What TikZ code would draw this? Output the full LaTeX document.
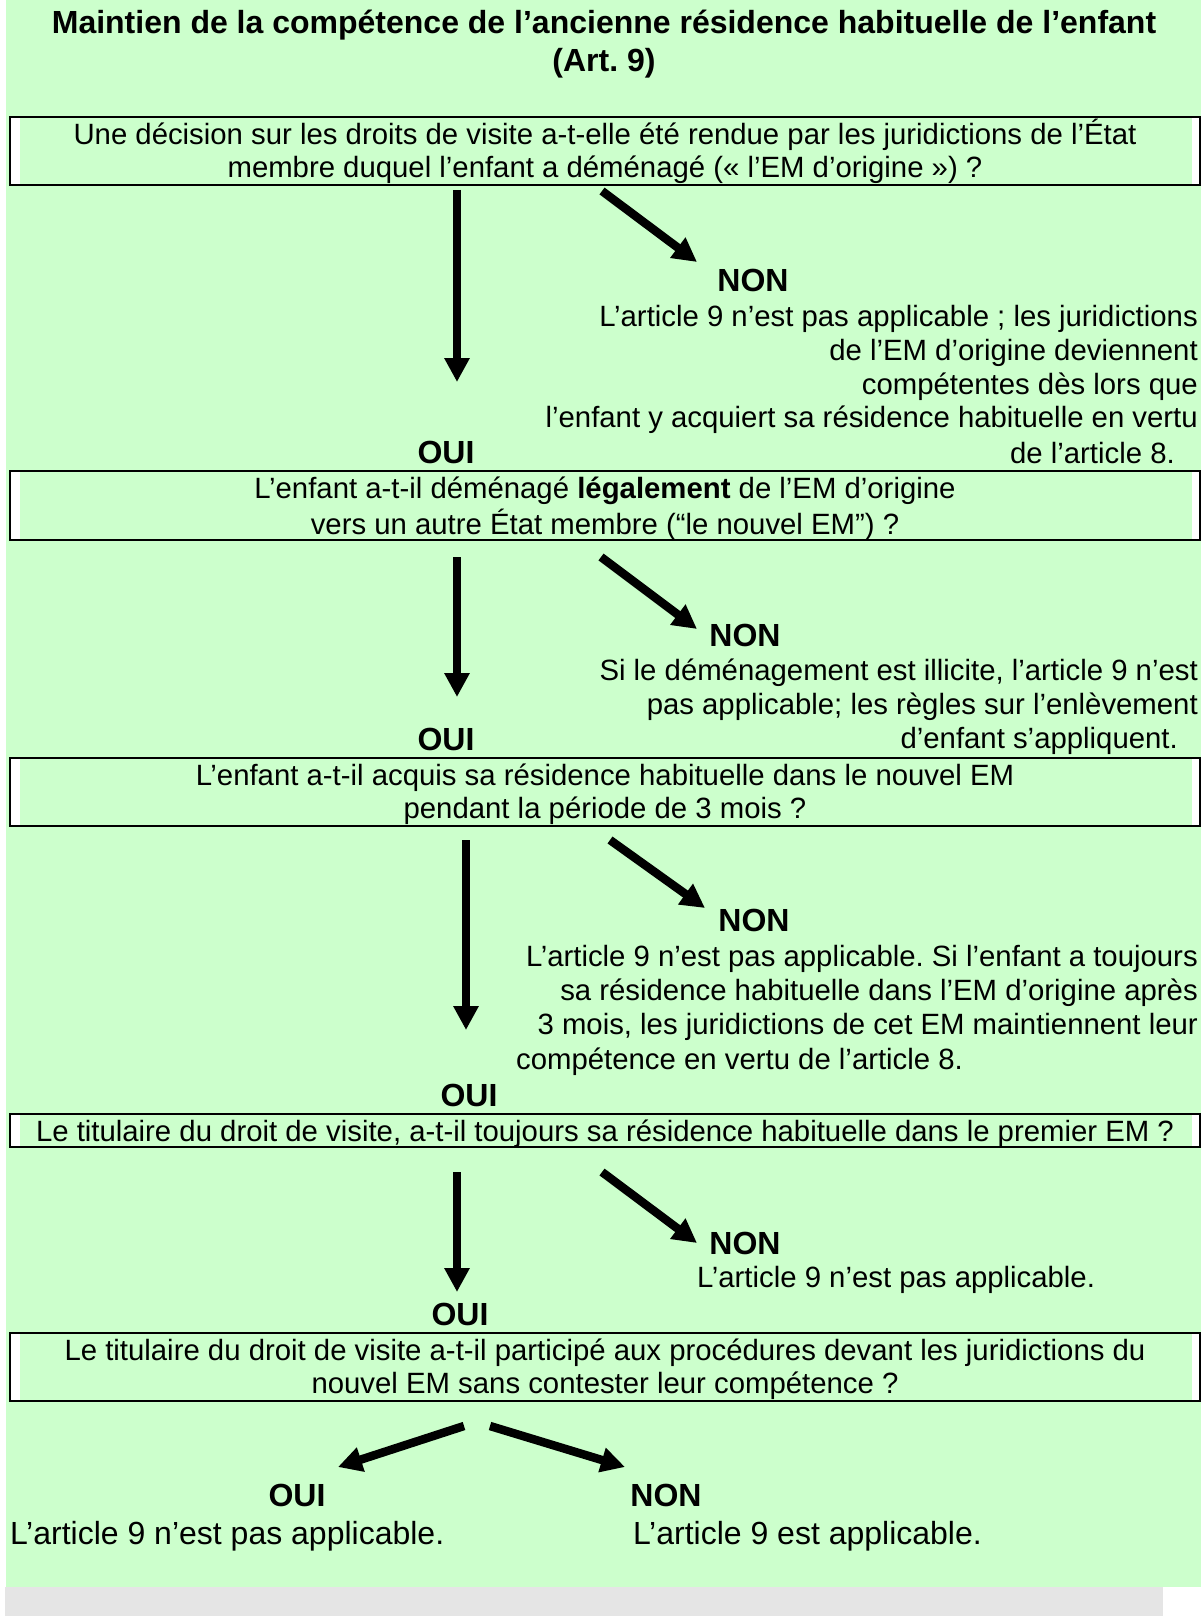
\documentclass[tikz,border=0pt]{standalone}
\usepackage{fontspec}
\setmainfont{Liberation Sans}
\usetikzlibrary{arrows.meta}
\definecolor{bggreen}{HTML}{CCFFCC}
\definecolor{bggray}{HTML}{E5E5E5}
\newcommand\myBody{\fontsize{29.33pt}{34pt}\selectfont}
\newcommand\myBox{\fontsize{29.33pt}{33.5pt}\selectfont}
\newcommand\myBig{\fontsize{32pt}{38pt}\selectfont}
\frenchspacing
\begin{document}
\begin{tikzpicture}[x=1pt,y=-1pt,
  qbox/.style={draw=black, line width=2pt, fill=white, inner sep=0pt,
    minimum width=1190pt, minimum height=68pt,
    path picture={\fill[bggreen] ([xshift=10pt]path picture bounding box.south west)
      rectangle ([xshift=-8pt]path picture bounding box.north east);}},
  qtext/.style={inner sep=0pt, align=center, font=\myBox},
  lbl/.style={font=\myBig\bfseries, inner sep=0pt, anchor=base},
  txtr/.style={font=\myBody, inner sep=0pt, anchor=base east},
  txtl/.style={font=\myBody, inner sep=0pt, anchor=base west},
  bigl/.style={font=\myBig, inner sep=0pt, anchor=base west},
  arr/.style={line width=8.5pt, -{Triangle[length=24pt,width=24pt]}}
]
\useasboundingbox (0,0) rectangle (1201,1616);
\fill[white] (0,0) rectangle (1201,1616);
\fill[bggreen] (6,0) rectangle (1201,1587);
\fill[bggray] (5,1587) rectangle (1163,1616);

% title
\node[lbl] (t0a) at (604,34) {Maintien de la compétence de l’ancienne résidence habituelle de l’enfant};
\node[lbl] (t0b) at (604,72) {(Art. 9)};

% question boxes
\node[qbox] (q1) at (605,151) {};
\node[qtext] (q1t) at ([yshift=-2.5pt]q1.center) {\strut Une décision sur les droits de visite a-t-elle été rendue par les juridictions de l’État\\\strut membre duquel l’enfant a déménagé (« l’EM d’origine ») ?};
\node[qbox, minimum height=69pt] (q2) at (605,505.5) {};
\node[qtext] (q2t) at ([yshift=-4.5pt]q2.center) {\strut L’enfant a-t-il déménagé \textbf{légalement} de l’EM d’origine\\\strut vers un autre État membre (“le nouvel EM”) ?};
\node[qbox] (q3) at (605,792) {};
\node[qtext] (q3t) at ([yshift=-3.5pt]q3.center) {\strut L’enfant a-t-il acquis sa résidence habituelle dans le nouvel EM\\\strut pendant la période de 3 mois ?};
\node[qbox, minimum height=33pt] (q4) at (605,1130.5) {};
\node[qtext] (q4t) at ([yshift=-4pt]q4.center) {\strut Le titulaire du droit de visite, a-t-il toujours sa résidence habituelle dans le premier EM ?};
\node[qbox] (q5) at (605,1367) {};
\node[qtext] (q5t) at ([yshift=-3.5pt]q5.center) {\strut Le titulaire du droit de visite a-t-il participé aux procédures devant les juridictions du\\\strut nouvel EM sans contester leur compétence ?};

% group 1
\coordinate (d1s) at (457,190); \coordinate (d1e) at (457,382);
\coordinate (n1s) at (602,191); \coordinate (n1e) at (697,262);
\draw[arr] (d1s) -- (d1e);
\draw[arr] (n1s) -- (n1e);
\node[lbl] (non1) at (753,291.5) {NON};
\node[txtr] (t1a) at (1198,326) {L’article 9 n’est pas applicable ; les juridictions};
\node[txtr] (t1b) at (1198,360) {de l’EM d’origine deviennent};
\node[txtr] (t1c) at (1198,394) {compétentes dès lors que};
\node[txtr] (t1d) at (1198,427) {l’enfant y acquiert sa résidence habituelle en vertu};
\node[txtr] (t1e) at (1175,463) {de l’article 8.};
\node[lbl] (oui1) at (446,463) {OUI};

% group 2
\coordinate (d2s) at (457,557); \coordinate (d2e) at (457,697);
\coordinate (n2s) at (601,557); \coordinate (n2e) at (697,629);
\draw[arr] (d2s) -- (d2e);
\draw[arr] (n2s) -- (n2e);
\node[lbl] (non2) at (745,646) {NON};
\node[txtr] (t2a) at (1198,680) {Si le déménagement est illicite, l’article 9 n’est};
\node[txtr] (t2b) at (1198,714) {pas applicable; les règles sur l’enlèvement};
\node[txtr] (t2c) at (1178,748) {d’enfant s’appliquent.};
\node[lbl] (oui2) at (446,750) {OUI};

% group 3
\coordinate (d3s) at (466,840); \coordinate (d3e) at (466,1030);
\coordinate (n3s) at (610,840); \coordinate (n3e) at (705,908);
\draw[arr] (d3s) -- (d3e);
\draw[arr] (n3s) -- (n3e);
\node[lbl] (non3) at (754,931.5) {NON};
\node[txtr] (t3a) at (1198,966) {L’article 9 n’est pas applicable. Si l’enfant a toujours};
\node[txtr] (t3b) at (1198,1000) {sa résidence habituelle dans l’EM d’origine après};
\node[txtr] (t3c) at (1198,1034) {3 mois, les juridictions de cet EM maintiennent leur};
\node[txtl] (t3d) at (516,1069) {compétence en vertu de l’article 8.};
\node[lbl] (oui3) at (469,1106.5) {OUI};

% group 4
\coordinate (d4s) at (457,1172); \coordinate (d4e) at (457,1292);
\coordinate (n4s) at (602,1172); \coordinate (n4e) at (697,1243);
\draw[arr] (d4s) -- (d4e);
\draw[arr] (n4s) -- (n4e);
\node[lbl] (non4) at (745,1254) {NON};
\node[txtl] (t4a) at (697,1287) {L’article 9 n’est pas applicable.};
\node[lbl] (oui4) at (460,1325) {OUI};

% final
\coordinate (f1s) at (464,1426); \coordinate (f1e) at (338,1467);
\coordinate (f2s) at (490,1426); \coordinate (f2e) at (625,1467);
\draw[arr] (f1s) -- (f1e);
\draw[arr] (f2s) -- (f2e);
\node[lbl] (oui5) at (297,1506) {OUI};
\node[bigl] (t5a) at (10,1544) {L’article 9 n’est pas applicable.};
\node[lbl] (non5) at (666,1506) {NON};
\node[bigl] (t5b) at (633,1544) {L’article 9 est applicable.};
\end{tikzpicture}
\end{document}
